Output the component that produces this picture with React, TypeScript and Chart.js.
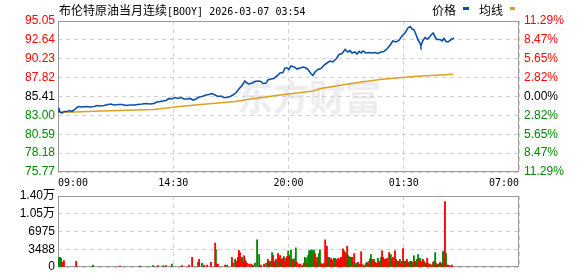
import React, { useEffect, useRef } from "react";
import { Chart, registerables } from "chart.js";
Chart.register(...registerables);

// ---------- data ----------
const titleName = "布伦特原油当月连续";
const titleCode = "[BOOY] 2026-03-07 03:54";
const legendPrice = "价格";
const legendAvg = "均线";
const watermark = "东方财富";

const timeTicks = [0, 330, 660, 990, 1320];
const timeLabels = ["09:00", "14:30", "20:00", "01:30", "07:00"];

const prevClose = 85.41;
const priceTicks = [75.77, 78.18, 80.59, 83.0, 85.41, 87.82, 90.23, 92.64, 95.05];
const pctLabels = ["11.29%", "8.47%", "5.65%", "2.82%", "0.00%", "2.82%", "5.65%", "8.47%", "11.29%"];

// minutes after 09:00
const priceTimes = [
  0, 3, 6, 11, 17, 26, 34, 40, 49, 54, 60, 69, 80, 92, 103, 112, 120, 132, 143, 152,
  160, 172, 183, 195, 206, 218, 229, 241, 252, 263, 275, 283, 292, 301, 309, 318, 326, 335, 344, 352,
  361, 369, 378, 387, 395, 404, 412, 424, 432, 441, 450, 458, 467, 475, 484, 493, 501, 510, 518, 527,
  535, 541, 547, 556, 564, 573, 581, 587, 596, 601, 610, 618, 627, 636, 644, 650, 656, 661, 667, 676,
  684, 693, 702, 710, 716, 724, 730, 736, 744, 753, 762, 770, 779, 787, 796, 805, 813, 822, 830, 836,
  842, 850, 856, 862, 868, 873, 882, 891, 899, 908, 916, 925, 933, 942, 951, 959, 968, 976, 985, 994,
  1002, 1008, 1014, 1019, 1025, 1031, 1037, 1039, 1045, 1051, 1057, 1062, 1068, 1074, 1080, 1085, 1094, 1100, 1105, 1111,
  1117, 1122, 1128, 1134,
];
const prices = [
  83.37, 83.81, 83.43, 83.3, 83.5, 83.5, 83.62, 83.5, 83.81, 84.01, 84.13, 84.07, 84.13, 84.07, 84.13, 84.26, 84.2, 84.26, 84.39, 84.45,
  84.32, 84.39, 84.39, 84.26, 84.32, 84.32, 84.39, 84.45, 84.52, 84.45, 84.52, 84.71, 84.77, 84.84, 84.9, 85.16, 85.09, 85.28, 85.16, 85.28,
  85.09, 85.09, 85.16, 84.96, 85.09, 85.35, 85.41, 85.6, 85.67, 85.79, 85.6, 85.41, 85.47, 85.28, 85.28, 85.41, 85.6, 85.92, 86.37, 86.81,
  87.39, 87.13, 87.01, 87.13, 87.33, 87.39, 87.33, 87.07, 87.13, 87.52, 87.64, 87.71, 88.03, 88.41, 88.47, 89.05, 89.05, 88.86, 89.3, 89.18,
  88.92, 89.05, 89.18, 89.05, 88.86, 88.35, 88.09, 88.54, 88.86, 88.99, 89.43, 89.69, 89.94, 89.82, 90.2, 90.77, 90.9, 91.41, 91.09, 91.28,
  90.96, 91.09, 90.84, 91.16, 90.96, 91.22, 90.96, 91.03, 90.96, 91.03, 90.9, 91.09, 91.16, 91.47, 91.99, 92.5, 92.37, 92.56, 93.13, 93.52,
  94.16, 94.35, 94.03, 93.96, 93.33, 92.62, 92.18, 91.86, 92.56, 92.94, 92.75, 92.88, 93.26, 93.52, 93.01, 92.69, 92.69, 92.5, 92.82, 92.43,
  92.37, 92.56, 92.75, 92.88,
];

const avgTimes = [0, 49, 123, 275, 335, 392, 450, 507, 564, 636, 730, 756, 850, 922, 1017, 1080, 1131];
const avgPrices = [83.39, 83.43, 83.56, 83.75, 84.07, 84.32, 84.54, 84.77, 85.16, 85.6, 86.11, 86.46, 87.13, 87.58, 87.96, 88.12, 88.24];

const volTicks = [0, 3488, 6975, 10463, 13950];
const volTickLabels = ["0", "3488", "6975", "1.05万", "1.40万"];

const volTimes = [
  3, 6, 9, 14, 17, 52, 100, 178, 235, 272, 286, 301, 309, 326, 355, 375, 384, 401, 404, 412,
  418, 427, 438, 450, 452, 455, 458, 478, 484, 498, 501, 507, 510, 513, 515, 518, 521, 524, 527, 530,
  533, 535, 538, 541, 547, 553, 558, 564, 570, 576, 581, 590, 596, 601, 604, 607, 610, 613, 616, 618,
  621, 624, 627, 630, 633, 636, 639, 641, 644, 647, 650, 653, 656, 659, 661, 664, 667, 670, 673, 676,
  679, 681, 684, 690, 693, 699, 704, 707, 710, 713, 716, 719, 722, 724, 727, 730, 733, 736, 739, 742,
  744, 747, 750, 753, 756, 759, 762, 765, 767, 770, 773, 776, 779, 782, 785, 787, 790, 793, 796, 799,
  802, 805, 807, 810, 813, 816, 819, 822, 825, 828, 830, 833, 836, 839, 842, 845, 848, 850, 853, 856,
  859, 862, 865, 868, 870, 876, 882, 885, 888, 891, 893, 896, 899, 902, 905, 908, 911, 913, 916, 919,
  922, 925, 928, 931, 933, 936, 939, 942, 945, 948, 951, 953, 956, 959, 962, 965, 968, 971, 974, 976,
  979, 982, 985, 988, 991, 994, 996, 999, 1002, 1005, 1008, 1011, 1014, 1017, 1019, 1022, 1025, 1028, 1031, 1034,
  1037, 1039, 1042, 1045, 1048, 1051, 1054, 1057, 1059, 1062, 1065, 1068, 1071, 1074, 1077, 1080, 1082, 1085, 1088, 1091,
  1094, 1097, 1100, 1102, 1105, 1108, 1111, 1114, 1117, 1122, 1128,
];
const volValues = [
  1890, 1890, 1700, 940, 1260, 1130, 380, 190, 190, 280, 280, 280, 280, 570, 280, 380, 1890, 940, 1510, 750,
  380, 380, 940, 4710, 3450, 570, 570, 380, 380, 1890, 750, 1510, 1130, 940, 1890, 3260, 2830, 1700, 1890, 1130,
  2210, 1510, 1130, 750, 570, 570, 380, 750, 5330, 2450, 380, 570, 750, 1510, 1130, 940, 1130, 2830, 2260, 1130,
  940, 1510, 940, 2640, 1890, 2260, 1130, 1510, 1700, 2070, 1130, 1700, 2070, 3150, 2070, 2260, 3260, 1510, 1510, 1130,
  1700, 3770, 940, 570, 570, 380, 750, 1890, 1700, 750, 2260, 3200, 2640, 3260, 3390, 3020, 3260, 2640, 940, 1890,
  1510, 2640, 3390, 750, 380, 570, 750, 5330, 2450, 4090, 1890, 1890, 1510, 1700, 1130, 1320, 1700, 1700, 1510, 940,
  1700, 940, 1510, 1890, 1890, 3580, 3200, 2830, 2640, 4090, 2260, 2070, 1890, 1890, 1890, 940, 2640, 750, 380, 750,
  940, 380, 570, 3020, 570, 380, 750, 940, 570, 1130, 1510, 2450, 1510, 1130, 1510, 940, 750, 570, 1700, 940,
  1130, 1890, 3200, 1890, 1130, 1510, 1510, 1700, 940, 2830, 1130, 2450, 1510, 1890, 940, 3200, 1510, 1130, 940, 1130,
  1510, 750, 1130, 3640, 1130, 940, 1130, 1510, 940, 750, 1130, 1130, 940, 750, 2210, 1130, 940, 1510, 2450, 1510,
  1700, 940, 1130, 1510, 1130, 750, 750, 1700, 750, 380, 570, 380, 380, 940, 1130, 2830, 750, 380, 570, 570,
  940, 570, 750, 3020, 3020, 12870, 2640, 380, 380, 280, 380,
];
// 1 = up (red), 0 = down (green)
const volUp = [
  0, 0, 0, 1, 1, 1, 0, 1, 0, 0, 1, 0, 1, 0, 1, 1, 1, 0, 1, 0,
  1, 1, 1, 1, 0, 1, 1, 1, 0, 1, 1, 0, 1, 1, 1, 1, 1, 1, 0, 1,
  1, 1, 0, 1, 1, 1, 1, 0, 0, 0, 1, 1, 0, 1, 1, 1, 0, 0, 1, 1,
  1, 1, 0, 1, 1, 1, 0, 1, 1, 0, 1, 1, 1, 0, 1, 1, 0, 1, 1, 1,
  0, 0, 1, 1, 1, 1, 1, 0, 0, 1, 0, 0, 0, 0, 0, 0, 0, 1, 1, 1,
  1, 0, 0, 1, 1, 1, 0, 1, 0, 1, 1, 0, 1, 1, 0, 1, 0, 0, 1, 1,
  1, 1, 1, 1, 1, 1, 0, 1, 0, 1, 1, 0, 1, 0, 1, 1, 1, 0, 1, 0,
  1, 1, 0, 1, 1, 1, 1, 0, 1, 1, 1, 0, 1, 1, 0, 1, 1, 1, 0, 1,
  1, 0, 1, 1, 0, 1, 1, 1, 0, 1, 0, 0, 1, 1, 0, 1, 1, 0, 0, 1,
  0, 1, 1, 1, 1, 0, 0, 1, 0, 1, 0, 0, 1, 0, 0, 1, 1, 0, 0, 1,
  0, 1, 0, 1, 1, 0, 1, 1, 1, 1, 0, 1, 1, 1, 0, 0, 1, 1, 1, 0,
  1, 1, 1, 0, 0, 1, 0, 1, 1, 1, 1,
];

// ---------- styles ----------
const RED = "#ff0000";
const GREEN = "#008800";
const PRICE_COLOR = "#0a50a8";
const AVG_COLOR = "#dfa020";
const GRID = "#d0d0d0";
const FRAME = "#9a9a9a";
const NUM_FONT = '"Liberation Sans", "Noto Sans CJK SC", sans-serif';
const MONO_FONT = '"DejaVu Sans Mono", monospace';
const CJK_FONT = '"Noto Sans CJK SC", sans-serif';

const framePlugin = {
  id: "frame",
  beforeDatasetsDraw(chart: any) {
    const { ctx, chartArea } = chart;
    ctx.save();
    ctx.strokeStyle = FRAME;
    ctx.lineWidth = 1;
    ctx.strokeRect(
      Math.round(chartArea.left) + 0.5,
      Math.round(chartArea.top) + 0.5,
      Math.round(chartArea.right - chartArea.left) - 1,
      Math.round(chartArea.bottom - chartArea.top) - 1
    );
    ctx.restore();
  },
};

const watermarkPlugin = {
  id: "watermark",
  beforeDraw(chart: any) {
    const { ctx } = chart;
    ctx.save();
    ctx.font = `bold 36px ${CJK_FONT}`;
    ctx.fillStyle = "#ececf1";
    ctx.textBaseline = "middle";
    ctx.fillText(watermark, 237, 97);
    ctx.restore();
  },
};

const tickColor = (c: any) => {
  const v = c.tick ? c.tick.value : prevClose;
  if (Math.abs(v - prevClose) < 1e-6) return "#000000";
  return v > prevClose ? RED : GREEN;
};

export default function App() {
  const priceRef = useRef<HTMLCanvasElement | null>(null);
  const volRef = useRef<HTMLCanvasElement | null>(null);

  useEffect(() => {
    document.body.style.margin = "0";
    const priceChart = new Chart(priceRef.current as HTMLCanvasElement, {
      type: "line",
      data: {
        datasets: [
          {
            label: legendPrice,
            data: priceTimes.map((t, i) => ({ x: t, y: prices[i] })),
            borderColor: PRICE_COLOR,
            borderWidth: 1.6,
            pointRadius: 0,
            tension: 0,
            yAxisID: "y",
          },
          {
            label: legendAvg,
            data: avgTimes.map((t, i) => ({ x: t, y: avgPrices[i] })),
            borderColor: AVG_COLOR,
            borderWidth: 1.5,
            pointRadius: 0,
            tension: 0,
            yAxisID: "y",
          },
        ],
      },
      options: {
        animation: false,
        responsive: false,
        devicePixelRatio: 1,
        layout: { padding: { top: 21, left: 0, right: 0, bottom: 0 } },
        plugins: { legend: { display: false }, tooltip: { enabled: false } },
        scales: {
          x: {
            type: "linear",
            offset: false,
            min: timeTicks[0],
            max: timeTicks[timeTicks.length - 1],
            afterBuildTicks: (s: any) => {
              s.ticks = timeTicks.map((v) => ({ value: v }));
            },
            afterFit: (s: any) => {
              s.height = 18;
            },
            grid: { color: GRID, drawTicks: false },
            border: { display: false, dash: [4, 4] },
            ticks: {
              autoSkip: false,
              maxRotation: 0,
              align: "inner",
              padding: 5,
              color: "#000",
              font: { family: MONO_FONT, size: 10 },
              callback: (_v: any, i: number) => timeLabels[i],
            },
          },
          y: {
            type: "linear",
            position: "left",
            min: priceTicks[0],
            max: priceTicks[priceTicks.length - 1],
            afterBuildTicks: (s: any) => {
              s.ticks = priceTicks.map((v) => ({ value: v }));
            },
            afterFit: (s: any) => {
              s.width = 58;
            },
            grid: { color: GRID, drawTicks: false },
            border: { display: false, dash: [4, 4] },
            ticks: {
              padding: 3,
              color: tickColor,
              font: { family: NUM_FONT, size: 12, lineHeight: 1 },
              callback: (v: any) => Number(v).toFixed(2),
            },
          },
          y2: {
            type: "linear",
            position: "right",
            min: priceTicks[0],
            max: priceTicks[priceTicks.length - 1],
            afterBuildTicks: (s: any) => {
              s.ticks = priceTicks.map((v) => ({ value: v }));
            },
            afterFit: (s: any) => {
              s.width = 59;
            },
            grid: { display: false, drawTicks: false },
            border: { display: false },
            ticks: {
              padding: 5,
              color: tickColor,
              font: { family: NUM_FONT, size: 12, lineHeight: 1 },
              callback: (_v: any, i: number) => pctLabels[i],
            },
          },
        },
      },
      plugins: [watermarkPlugin, framePlugin],
    } as any);

    const volChart = new Chart(volRef.current as HTMLCanvasElement, {
      type: "bar",
      data: {
        datasets: [
          {
            label: "成交量",
            data: volTimes.map((t, i) => ({ x: t, y: volValues[i] })),
            backgroundColor: volUp.map((u) => (u ? RED : GREEN)),
            borderWidth: 0,
            barThickness: 1.2,
          },
        ],
      },
      options: {
        animation: false,
        responsive: false,
        devicePixelRatio: 1,
        layout: { padding: { top: 10, left: 0, right: 59, bottom: 0 } },
        plugins: { legend: { display: false }, tooltip: { enabled: false } },
        scales: {
          x: {
            type: "linear",
            offset: false,
            min: timeTicks[0],
            max: timeTicks[timeTicks.length - 1],
            afterBuildTicks: (s: any) => {
              s.ticks = timeTicks.map((v) => ({ value: v }));
            },
            afterFit: (s: any) => {
              s.height = 6;
            },
            grid: { color: GRID, drawTicks: false, offset: false },
            border: { display: false, dash: [4, 4] },
            ticks: { display: false },
          },
          y: {
            type: "linear",
            position: "left",
            min: volTicks[0],
            max: volTicks[volTicks.length - 1],
            afterBuildTicks: (s: any) => {
              s.ticks = volTicks.map((v) => ({ value: v }));
            },
            afterFit: (s: any) => {
              s.width = 58;
            },
            grid: { color: GRID, drawTicks: false },
            border: { display: false, dash: [4, 4] },
            ticks: {
              padding: 3,
              color: "#000",
              font: { family: NUM_FONT, size: 12, lineHeight: 1 },
              callback: (_v: any, i: number) => volTickLabels[i],
            },
          },
        },
      },
      plugins: [framePlugin],
    } as any);

    return () => {
      priceChart.destroy();
      volChart.destroy();
    };
  }, []);

  return (
    <div
      style={{
        position: "fixed",
        left: 0,
        top: 0,
        width: 578,
        height: 276,
        background: "#fff",
        overflow: "hidden",
      }}
    >
      <canvas ref={priceRef} width={578} height={190} style={{ position: "absolute", left: 0, top: 0 }} />
      <canvas ref={volRef} width={578} height={90} style={{ position: "absolute", left: 0, top: 186 }} />
      <div
        style={{
          position: "absolute",
          left: 59,
          top: 2,
          fontSize: 12,
          lineHeight: "16px",
          whiteSpace: "nowrap",
          color: "#000",
        }}
      >
        <span style={{ fontFamily: CJK_FONT }}>{titleName}</span>
        <span style={{ fontFamily: MONO_FONT, fontSize: 10 }}>{titleCode}</span>
      </div>
      <div
        style={{
          position: "absolute",
          left: 432,
          top: 2,
          fontSize: 12,
          lineHeight: "16px",
          fontFamily: CJK_FONT,
          whiteSpace: "nowrap",
          color: "#000",
        }}
      >
        {legendPrice}
      </div>
      <div style={{ position: "absolute", left: 463, top: 7, width: 6, height: 3, background: PRICE_COLOR }} />
      <div
        style={{
          position: "absolute",
          left: 479,
          top: 2,
          fontSize: 12,
          lineHeight: "16px",
          fontFamily: CJK_FONT,
          whiteSpace: "nowrap",
          color: "#000",
        }}
      >
        {legendAvg}
      </div>
      <div style={{ position: "absolute", left: 510, top: 7, width: 5, height: 3, background: AVG_COLOR }} />
    </div>
  );
}
